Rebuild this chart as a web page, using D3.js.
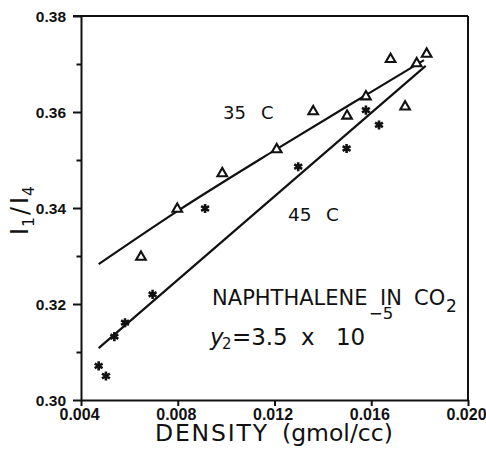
<!DOCTYPE html>
<html>
<head>
<meta charset="utf-8">
<script src="https://cdn.jsdelivr.net/npm/d3@7"></script>
<style>
  html, body { margin: 0; padding: 0; background: #fff; }
  svg { display: block; }
</style>
</head>
<body>
<svg id="chart" width="486" height="450"></svg>
<script>
// I1/I4 ratio of naphthalene in supercritical CO2 versus density, two isotherms

// 35 C isotherm (open triangles)
const density35 = [0.00648, 0.00798, 0.00984, 0.01209, 0.01360, 0.01500, 0.01578, 0.01680, 0.01740, 0.01788, 0.01829];
const ratio35   = [0.3298, 0.3398, 0.3472, 0.3522, 0.3601, 0.3592, 0.3632, 0.3710, 0.3611, 0.3701, 0.3721];

// 45 C isotherm (asterisks)
const density45 = [0.00473, 0.00503, 0.00538, 0.00582, 0.00696, 0.00913, 0.01298, 0.01498, 0.01578, 0.01632];
const ratio45   = [0.3071, 0.3050, 0.3132, 0.3161, 0.3220, 0.3399, 0.3486, 0.3524, 0.3604, 0.3573];

// fitted curves
const fitDensity35 = [0.00473, 0.00800, 0.01200, 0.01600, 0.01818];
const fitRatio35   = [0.3283, 0.3394, 0.3520, 0.3642, 0.3708];
const fitDensity45 = [0.00473, 0.01825];
const fitRatio45   = [0.3108, 0.3696];

// axis ticks
const xTicks = [0.004, 0.008, 0.012, 0.016, 0.020];
const xTickLabels = ["0.004", "0.008", "0.012", "0.016", "0.020"];
const yTicks = [0.30, 0.32, 0.34, 0.36, 0.38];
const yTickLabels = ["0.30", "0.32", "0.34", "0.36", "0.38"];
const yMinorTicks = [0.31, 0.33, 0.35, 0.37];

const svg = d3.select("#chart");
const ink = "#111";

const plot = { left: 81, right: 468, top: 16, bottom: 400 };

const x = d3.scaleLinear().domain([0.004, 0.020]).range([plot.left, plot.right]);
const y = d3.scaleLinear().domain([0.30, 0.38]).range([plot.bottom, plot.top]);

svg.append("rect").attr("width", 486).attr("height", 450).attr("fill", "#fff");

// --- axes ---
const yAxis = d3.axisLeft(y)
  .tickValues(yTicks)
  .tickSize(8)
  .tickSizeOuter(0)
  .tickFormat((d, i) => yTickLabels[i]);

const gy = svg.append("g")
  .attr("transform", `translate(${plot.left},0)`)
  .call(yAxis);

const yMinor = d3.axisLeft(y).tickValues(yMinorTicks).tickSize(4.5).tickSizeOuter(0).tickFormat("");
const gym = svg.append("g")
  .attr("transform", `translate(${plot.left},0)`)
  .call(yMinor);
gym.select(".domain").remove();

const xAxis = d3.axisBottom(x)
  .tickValues(xTicks)
  .tickSize(6)
  .tickSizeOuter(0)
  .tickFormat((d, i) => xTickLabels[i]);

const gx = svg.append("g")
  .attr("transform", `translate(0,${plot.bottom})`)
  .call(xAxis);

[gx, gy, gym].forEach(g => {
  g.selectAll("path.domain").attr("stroke", ink).attr("stroke-width", 2);
  g.selectAll(".tick line").attr("stroke", ink).attr("stroke-width", 2);
});

gy.selectAll(".tick text")
  .attr("x", -15)
  .attr("dy", "0.36em")
  .attr("fill", ink)
  .style("font-family", "'Liberation Sans', Arial, sans-serif")
  .style("font-weight", "bold")
  .style("font-size", "15.5px");

gx.selectAll(".tick text")
  .attr("x", -2)
  .attr("y", 20)
  .attr("dy", 0)
  .attr("fill", ink)
  .style("font-family", "'Liberation Sans', Arial, sans-serif")
  .style("font-weight", "bold")
  .style("font-size", "16px");

// top and right frame
svg.append("line")
  .attr("x1", plot.left - 8).attr("x2", plot.right)
  .attr("y1", plot.top).attr("y2", plot.top)
  .attr("stroke", ink).attr("stroke-width", 2);
svg.append("line")
  .attr("x1", plot.right).attr("x2", plot.right)
  .attr("y1", plot.top).attr("y2", plot.bottom)
  .attr("stroke", ink).attr("stroke-width", 2);

// --- fitted curves ---
const line = d3.line().x(d => x(d[0])).y(d => y(d[1]));

svg.append("path")
  .datum(d3.zip(fitDensity35, fitRatio35))
  .attr("d", line.curve(d3.curveMonotoneX))
  .attr("fill", "none").attr("stroke", ink).attr("stroke-width", 2.2);

svg.append("path")
  .datum(d3.zip(fitDensity45, fitRatio45))
  .attr("d", line.curve(d3.curveLinear))
  .attr("fill", "none").attr("stroke", ink).attr("stroke-width", 2.2);

// --- markers ---
const tri = d3.symbol().type(d3.symbolTriangle).size(40);
svg.append("g").selectAll("path")
  .data(d3.zip(density35, ratio35))
  .join("path")
  .attr("transform", d => `translate(${x(d[0])},${y(d[1])})`)
  .attr("d", tri)
  .attr("fill", "#fff")
  .attr("stroke", ink)
  .attr("stroke-width", 2.1)
  .attr("stroke-linejoin", "miter");

const star = d3.symbol().type(d3.symbolAsterisk).size(58);
svg.append("g").selectAll("path")
  .data(d3.zip(density45, ratio45))
  .join("path")
  .attr("transform", d => `translate(${x(d[0])},${y(d[1])})`)
  .attr("d", star)
  .attr("fill", "none")
  .attr("stroke", ink)
  .attr("stroke-width", 2.6);

// --- text ---
const sans = "'DejaVu Sans', sans-serif";

function label(xv, yv, size) {
  return svg.append("text")
    .attr("x", x(xv)).attr("y", y(yv))
    .attr("fill", ink)
    .style("font-family", sans)
    .style("font-size", size + "px");
}

// isotherm labels
const l35 = label(0.00987, 0.35854, 18);
l35.append("tspan").text("35");
l35.append("tspan").attr("x", x(0.00987) + 38).text("C");

const l45 = label(0.01256, 0.3373, 18.5);
l45.append("tspan").text("45");
l45.append("tspan").attr("x", x(0.01256) + 38).text("C");

// system description
const x0 = x(0.00942);
const sys = label(0.00942, 0.3198, 21);
sys.append("tspan").text("NAPHTHALENE");
sys.append("tspan").attr("x", x0 + 168).text("IN");
sys.append("tspan").attr("x", x0 + 202).text("CO");
sys.append("tspan").attr("x", x0 + 234).attr("dy", 7).style("font-size", "17px").text("2");

const x1 = x(0.00933);
const conc = label(0.00933, 0.31146, 23);
conc.append("tspan").style("font-style", "italic").text("y");
conc.append("tspan").attr("x", x1 + 12).attr("dy", 4).style("font-size", "15px").text("2");
conc.append("tspan").attr("x", x1 + 22).attr("dy", -4).text("=3.5");
conc.append("tspan").attr("x", x1 + 91).text("x");
conc.append("tspan").attr("x", x1 + 126).text("10");
conc.append("tspan").attr("x", x1 + 159).attr("dy", -26).style("font-size", "16.5px").text("\u22125");

// x-axis title
const xt = svg.append("text")
  .attr("x", 155).attr("y", 441)
  .attr("fill", ink)
  .style("font-family", sans)
  .style("font-size", "23.5px");
xt.append("tspan").attr("textLength", 112).attr("lengthAdjust", "spacing").text("DENSITY");
xt.append("tspan").attr("x", 282).text("(gmol/cc)");

// y-axis title: I1/I4
const yt = svg.append("text")
  .attr("transform", "translate(28,235) rotate(-90)")
  .attr("fill", ink)
  .style("font-family", sans)
  .style("font-size", "24px");
yt.append("tspan").text("I");
yt.append("tspan").attr("dy", 6).attr("dx", 1).style("font-size", "15.5px").text("1");
yt.append("tspan").attr("dy", -6).attr("dx", 2).text("/");
yt.append("tspan").attr("dx", 3).text("I");
yt.append("tspan").attr("dy", 6).attr("dx", 1).style("font-size", "15.5px").text("4");
</script>
</body>
</html>
